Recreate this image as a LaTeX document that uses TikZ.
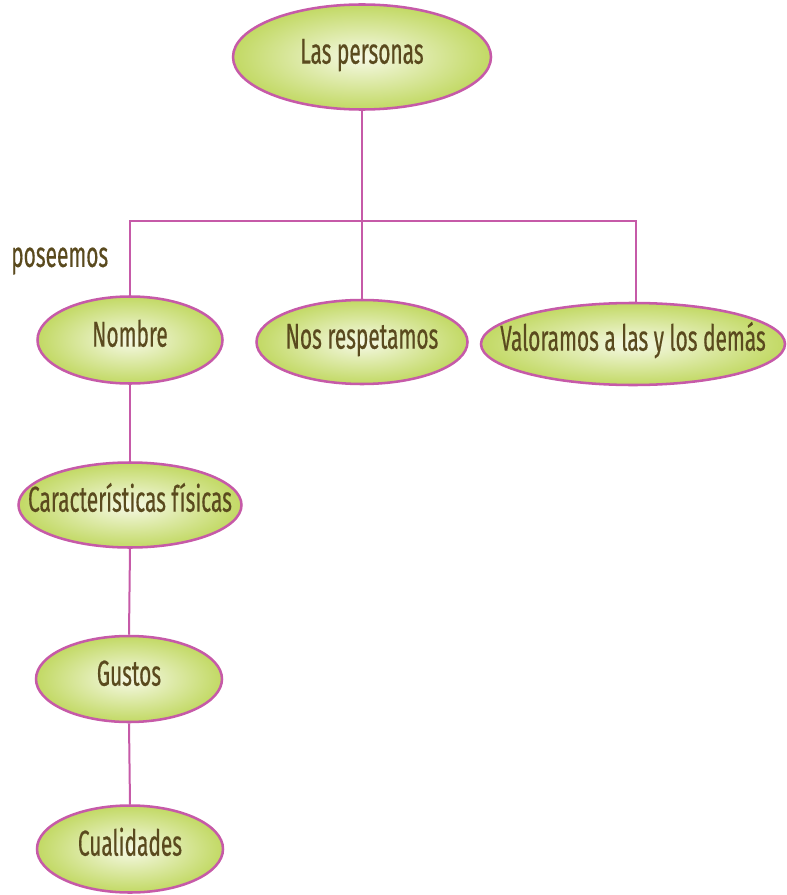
\documentclass[tikz,border=0pt]{standalone}
\usepackage{fontspec}
\setmainfont{Fira Sans}[FakeStretch=0.58,FakeBold=0.4]
\usepackage{tikz}
\usetikzlibrary{shapes.geometric,positioning,calc}

\definecolor{ovalin}{HTML}{F6F9E6}
\definecolor{ovalout}{HTML}{C2D964}
\definecolor{ovalline}{HTML}{C65AA8}
\definecolor{ovaltext}{HTML}{5A4A1E}

\begin{document}
\begin{tikzpicture}[x=0.75pt,y=-0.75pt,
  every node/.style={font=\fontsize{27}{31}\selectfont,text=ovaltext},
  oval/.style={ellipse,draw=ovalline,line width=1.9pt,shading=radial,
    inner color=ovalin,outer color=ovalout,inner xsep=-25pt,inner ysep=0pt,
    text height=18pt,text depth=8pt},
  link/.style={draw=ovalline,line width=1.5pt}]
\useasboundingbox (0,0) rectangle (786,895);

\node[oval,minimum width=193.5pt,minimum height=78.75pt] (personas) at (362,57) {Las personas};
\node[oval,minimum width=138.75pt,minimum height=65.25pt] (nombre) at (130,340) {Nombre};
\node[oval,minimum width=158.25pt,minimum height=63pt] (respetamos) at (362,342) {Nos respetamos};
\node[oval,minimum width=228pt,minimum height=61.5pt] (valoramos) at (633,344) {Valoramos a las y los demás};
\node[oval,minimum width=167.25pt,minimum height=63.75pt] (caracteristicas) at (130,505) {Características físicas};
\node[oval,minimum width=139.5pt,minimum height=64.5pt] (gustos) at (129,679) {Gustos};
\node[oval,minimum width=139.5pt,minimum height=65.25pt] (cualidades) at (130,849) {Cualidades};

\node[anchor=west,inner sep=0pt] (poseemos) at (11,261) {poseemos};

\coordinate (bar) at (362,221);
\draw[link] (personas.south) -- (respetamos.north);
\draw[link] (nombre.north) |- (bar) -| ([xshift=2.25pt]valoramos.north);
\draw[link] (nombre.south) -- (caracteristicas.north);
\draw[link] (caracteristicas.south) -- (gustos.north);
\draw[link] (gustos.south) -- (cualidades.north);
\end{tikzpicture}
\end{document}
